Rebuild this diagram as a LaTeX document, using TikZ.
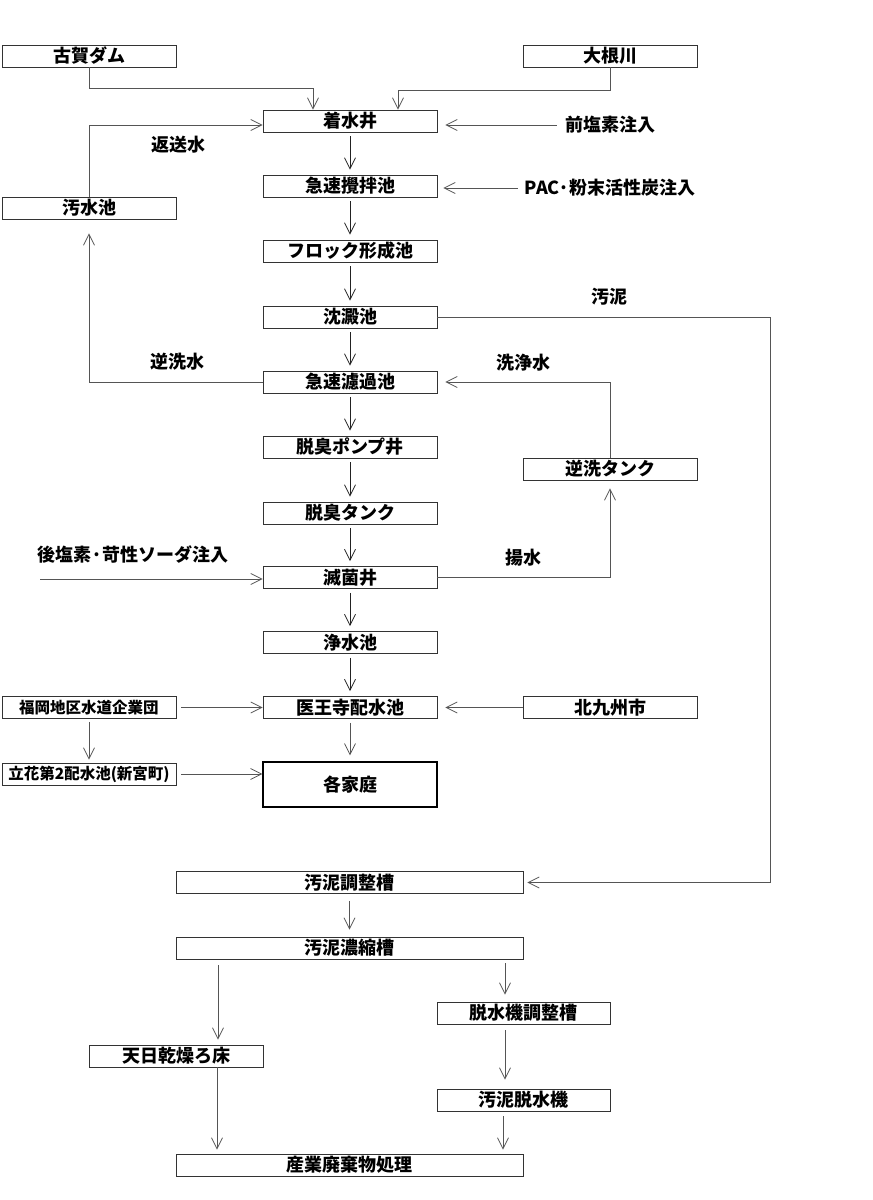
\documentclass[tikz,border=0pt]{standalone}
\usepackage{fontspec}
\setmainfont{Noto Sans CJK JP}
\usetikzlibrary{arrows.meta}
\definecolor{lnc}{HTML}{555555}
\definecolor{mainc}{HTML}{222222}
\begin{document}
\begin{tikzpicture}[x=1pt,y=-1pt,
  box/.style={draw=black!80,line width=0.8pt,minimum width=174pt,minimum height=22pt,inner sep=0pt,font=\fontsize{18}{18}\selectfont\bfseries},
  wbox/.style={box,minimum width=347pt},
  sbox/.style={box,font=\fontsize{15.5}{15.5}\selectfont\bfseries},
  lbl/.style={inner sep=0pt,font=\fontsize{18}{18}\selectfont\bfseries},
  arr/.style={draw=lnc,line width=0.8pt,-{Straight Barb[length=11pt,width=11pt,line width=0.8pt]}},
  marr/.style={arr,draw=mainc,line width=1pt,shorten <=4pt,shorten >=5pt},
  ln/.style={draw=lnc,line width=0.8pt}]
\useasboundingbox[fill=white] (0,0) rectangle (873,1200);
% boxes
\node[box] (koga) at (89,56) {古賀ダム};
\node[box] (oone) at (610,56) {大根川};
\node[box] (chaku) at (350,121) {着水井};
\node[box] (kyu) at (350,186) {急速攪拌池};
\node[box] (osui) at (89,208) {汚水池};
\node[box] (floc) at (350,251) {フロック形成池};
\node[box] (chin) at (350,317) {沈澱池};
\node[box] (roka) at (350,382) {急速濾過池};
\node[box] (pump) at (350,447) {脱臭ポンプ井};
\node[box] (dtank) at (350,513) {脱臭タンク};
\node[box] (gyaku) at (610,469) {逆洗タンク};
\node[box] (mek) at (350,577.5) {滅菌井};
\node[box] (josui) at (350,642.5) {浄水池};
\node[box] (iou) at (350,707.5) {医王寺配水池};
\node[box,minimum height=45pt,line width=1.2pt,draw=black] (kat) at (350,784.5) {各家庭};
\node[sbox] (fuku) at (89,707.5) {福岡地区水道企業団};
\node[sbox] (tachi) at (89,774) {立花第2配水池(新宮町)};
\node[box] (kita) at (610,707.5) {北九州市};
\node[wbox] (ochou) at (349.5,882.5) {汚泥調整槽};
\node[wbox] (onou) at (349.5,948) {汚泥濃縮槽};
\node[box,minimum width=173pt] (dchou) at (523.5,1013) {脱水機調整槽};
\node[box] (tenpi) at (176,1056) {天日乾燥ろ床};
\node[box,minimum width=173pt] (dki) at (523.5,1100) {汚泥脱水機};
\node[wbox] (sangyo) at (349.5,1165) {産業廃棄物処理};
% labels
\node[lbl] (zen) at (610,125) {前塩素注入};
\node[lbl] (pac) at (610,188) {PAC·粉末活性炭注入};
\node[lbl] (hen) at (178,145) {返送水};
\node[lbl] (odei) at (609,297) {汚泥};
\node[lbl] (gsui) at (177,362) {逆洗水};
\node[lbl] (sen) at (523,363) {洗浄水};
\node[lbl] (you) at (523,558) {揚水};
\node[lbl] (ato) at (133,555) {後塩素·苛性ソーダ注入};
\coordinate (atostart) at (40,579);
% main column
\draw[marr] (chaku) -- (kyu);
\draw[marr] (kyu) -- (floc);
\draw[marr] (floc) -- (chin);
\draw[marr] (chin) -- (roka);
\draw[marr] (roka) -- (pump);
\draw[marr] (pump) -- (dtank);
\draw[marr] (dtank) -- (mek);
\draw[marr] (mek) -- (josui);
\draw[marr] (josui) -- (iou);
\draw[arr,shorten <=4pt,shorten >=6pt] (iou) -- (kat);
% sources
\draw[arr] (koga.south) -- ++(0,21) -| ([xshift=-37pt]chaku.north);
\draw[arr] (oone.south) -- ++(0,23) -| ([xshift=48pt]chaku.north);
\draw[arr,shorten <=8pt,shorten >=8pt] (zen.west) -- (zen.west -| chaku.east);
\draw[arr,shorten <=7pt,shorten >=6pt] (pac.west) -- (pac.west -| kyu.east);
\draw[arr] (osui.north) |- ([yshift=-4pt]chaku.west);
\draw[arr,shorten >=14pt] (roka.west) -| (osui.south);
\draw[ln] (chin.east) -- ++(333,0) coordinate (cr);
\draw[arr,shorten >=4pt] (cr) |- (ochou.east);
\draw[arr,shorten >=8pt] (gyaku.north) |- (roka.east);
\draw[arr,shorten >=8pt] (mek.east) -| (gyaku.south);
\draw[arr] (atostart) -- (atostart -| mek.west);
\draw[arr,shorten <=5pt] (fuku.east) -- (iou.west);
\draw[arr,shorten >=8pt] (kita.west) -- (iou.east);
\draw[arr,shorten <=3pt,shorten >=3pt] (fuku.south) -- (tachi.north);
\draw[arr,shorten <=5pt] (tachi.east) -- (tachi.east -| kat.west);
% sludge
\draw[arr,shorten <=7pt,shorten >=7pt] (ochou) -- (onou);
\draw[arr,shorten <=6pt,shorten >=5pt] ([xshift=-131.5pt]onou.south) -- ([xshift=42pt]tenpi.north);
\draw[arr,shorten <=4pt,shorten >=7pt] ([xshift=155.5pt]onou.south) -- ([xshift=-18.5pt]dchou.north);
\draw[arr,shorten <=6pt,shorten >=9pt] ([xshift=-18.5pt]dchou.south) -- ([xshift=-18.5pt]dki.north);
\draw[arr,shorten >=4pt] ([xshift=41pt]tenpi.south) -- ([xshift=-132.5pt]sangyo.north);
\draw[arr,shorten <=5pt,shorten >=4pt] ([xshift=-20.5pt]dki.south) -- ([xshift=153.5pt]sangyo.north);
\end{tikzpicture}
\end{document}
